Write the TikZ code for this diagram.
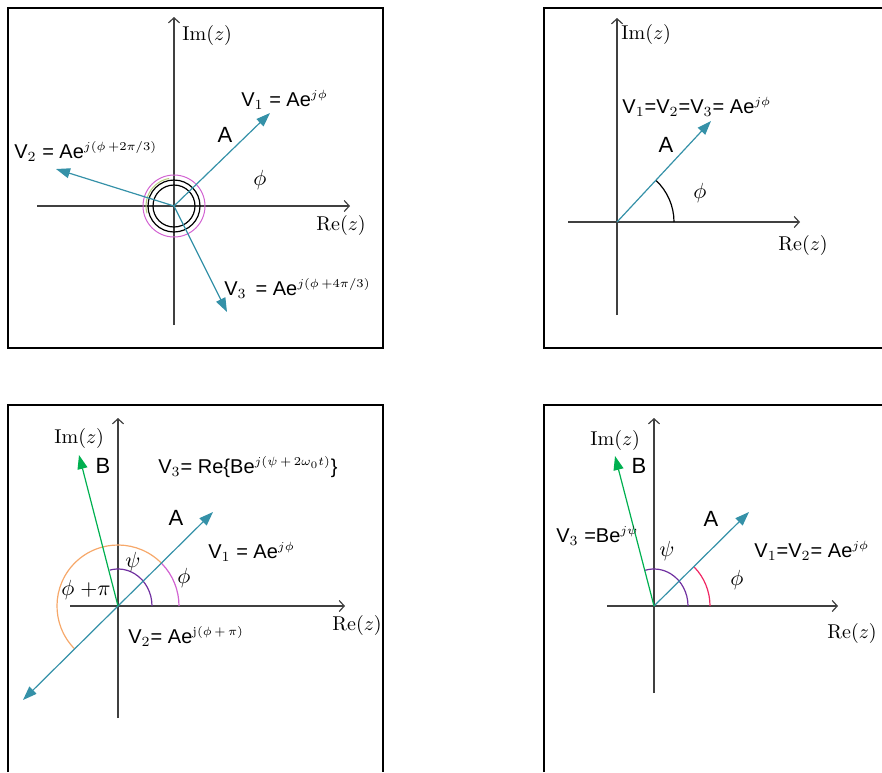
\documentclass[tikz,border=0pt]{standalone}
\usepackage{fontspec}
\setsansfont{Liberation Sans}
\usetikzlibrary{arrows.meta}

\definecolor{phasor}{RGB}{53,145,168}
\definecolor{bgreen}{RGB}{0,176,80}
\definecolor{magen}{RGB}{210,100,210}
\definecolor{lgreen}{RGB}{181,204,122}
\definecolor{peach}{RGB}{246,168,106}
\definecolor{violet}{RGB}{112,48,160}
\definecolor{crim}{RGB}{240,40,100}

% small exponent
\newcommand\ex[1]{\textsuperscript{\fontsize{8}{9}\selectfont$\scriptstyle #1$}}

\tikzset{
  axis/.style={draw=black!75, line width=0.6pt, -{Straight Barb[length=2.5pt,width=5.5pt]}},
  vec/.style={draw=phasor, line width=0.6pt, -{Triangle[length=7pt,width=5pt]}},
  bvec/.style={vec, draw=bgreen},
  frame/.style={draw=black, line width=0.6pt},
  lbl/.style={font=\sffamily\fontsize{10}{12}\selectfont, inner sep=0pt},
  letter/.style={font=\sffamily\fontsize{11}{13}\selectfont, inner sep=0pt},
  axlbl/.style={font=\fontsize{10}{12}\selectfont, inner sep=0pt, anchor=west},
  ang/.style={font=\fontsize{11}{13}\selectfont, inner sep=0pt}
}

\begin{document}
\begin{tikzpicture}[x=0.5pt, y=0.5pt]
  \useasboundingbox (0,0) rectangle (882,-772);

  % Frames
  \draw[frame] (8,-8) rectangle (383,-348);
  \draw[frame] (882,-8) -- (544,-8) -- (544,-348) -- (882,-348);
  \draw[frame] (8,-772) -- (8,-405) -- (383,-405) -- (383,-772);
  \draw[frame] (544,-772) -- (544,-405) -- (882,-405);

  % Origins
  \coordinate (O1) at (174,-206);
  \coordinate (O2) at (617,-222);
  \coordinate (O3) at (118,-606);
  \coordinate (O4) at (654,-606);

  % Axes
  \foreach \n/\xa/\xb/\ya/\yb in {
    1/37/350/325/17,
    2/568/800/315/18,
    3/70/345/718/418,
    4/607/838/693/418} {
    \coordinate (re\n s) at (\xa,0 |- O\n);
    \coordinate (re\n e) at (\xb,0 |- O\n);
    \coordinate (im\n s) at (O\n |- 0,-\ya);
    \coordinate (im\n e) at (O\n |- 0,-\yb);
    \draw[axis] (re\n s) -- (re\n e);
    \draw[axis] (im\n s) -- (im\n e);
  }

  % Axis labels
  \foreach \n/\x/\y in {1/182/35, 2/621/34, 3/54/438, 4/590/440}
    \node[axlbl] (im\n) at (\x,-\y) {$\mathrm{Im}(z)$};
  \foreach \n/\x/\y in {1/316/225, 2/778/245, 3/332/625, 4/827/633}
    \node[axlbl] (re\n) at (\x,-\y) {$\mathrm{Re}(z)$};

  % Panel 1: three phasors
  \draw[black, line width=0.6pt] (O1) circle[radius=21];
  \draw[black, line width=0.6pt] (O1) circle[radius=26];
  \draw[lgreen, line width=0.5pt] (O1) ++(100:28) arc[start angle=100, end angle=195, radius=28];
  \draw[magen, line width=0.5pt] (O1) circle[radius=31];
  \coordinate (v1a) at (270,-113);
  \coordinate (v2a) at (56,-169);
  \coordinate (v3a) at (227,-312);
  \draw[vec] (O1) -- (v1a);
  \draw[vec] (O1) -- (v2a);
  \draw[vec] (O1) -- (v3a);
  \node[lbl, anchor=base west] (v1lbl) at (241,-106) {V$_1$ = Ae\ex{j\phi}};
  \node[lbl, anchor=base west] (v2lbl) at (14,-158) {V$_2$ = Ae\ex{j(\phi\,+2\pi/3)}};
  \node[lbl, anchor=base west] (v3lbl) at (224,-295) {V$_3$ \,= Ae\ex{j(\phi\,+4\pi/3)}};
  \node[letter] (a1) at (225,-135) {A};
  \node[ang] (phi1) at (260,-180) {$\phi$};

  % Panel 2: equal phasors
  \coordinate (va2) at (711,-121);
  \draw[black, line width=0.6pt] (O2) ++(57,0) arc[start angle=0, end angle=47, radius=57];
  \draw[vec] (O2) -- (va2);
  \node[lbl, anchor=base west] (v123lbl) at (622,-113) {V$_1$=V$_2$=V$_3$= Ae\ex{j\phi}};
  \node[letter] (a2) at (666,-145) {A};
  \node[ang] (phi2) at (700,-193) {$\phi$};

  % Panel 3: opposite phasors
  \coordinate (va3) at (213,-512);
  \coordinate (vr3) at (23,-700);
  \coordinate (vb3) at (79,-455);
  \draw[peach, line width=0.6pt] (O3) ++(44:61) arc[start angle=44, end angle=224, radius=61];
  \draw[magen, line width=0.6pt] (O3) ++(61,0) arc[start angle=0, end angle=44, radius=61];
  \draw[violet, line width=0.6pt] (O3) ++(34,0) arc[start angle=0, end angle=104, x radius=34, y radius=37];
  \draw[vec] (O3) -- (va3);
  \draw[vec] (O3) -- (vr3);
  \draw[bvec] (O3) -- (vb3);
  \node[lbl, anchor=base west] (v3lblc) at (158,-473) {V$_3$= Re\{Be\ex{j(\psi\,+\,2\omega_0 t)}\}};
  \node[lbl, anchor=base west] (v1lblc) at (208,-558) {V$_1$ = Ae\ex{j\phi}};
  \node[lbl, anchor=base west] (v2lblc) at (128,-643) {V$_2$= Ae\ex{\mathrm{j}(\phi\,+\,\pi)}};
  \node[letter] (b3) at (103,-466) {B};
  \node[letter] (a3) at (176,-518) {A};
  \node[ang] (psi3) at (133,-562) {$\psi$};
  \node[ang] (phi3) at (184,-578) {$\phi$};
  \node[ang] (phipi3) at (86,-590) {$\phi\;{+}\pi$};

  % Panel 4: two phasors
  \coordinate (va4) at (749,-512);
  \coordinate (vb4) at (615,-456);
  \draw[crim, line width=0.6pt] (O4) ++(56,0) arc[start angle=0, end angle=44, radius=56];
  \draw[violet, line width=0.6pt] (O4) ++(34,0) arc[start angle=0, end angle=105, x radius=34, y radius=37];
  \draw[vec] (O4) -- (va4);
  \draw[bvec] (O4) -- (vb4);
  \node[lbl, anchor=base west] (v3lbld) at (556,-542) {V$_3$ =Be\ex{j\psi}};
  \node[lbl, anchor=base west] (v12lbld) at (754,-557) {V$_1$=V$_2$= Ae\ex{j\phi}};
  \node[letter] (b4) at (639,-466) {B};
  \node[letter] (a4) at (711,-519) {A};
  \node[ang] (psi4) at (667,-551) {$\psi$};
  \node[ang] (phi4) at (737,-580) {$\phi$};
\end{tikzpicture}
\end{document}
